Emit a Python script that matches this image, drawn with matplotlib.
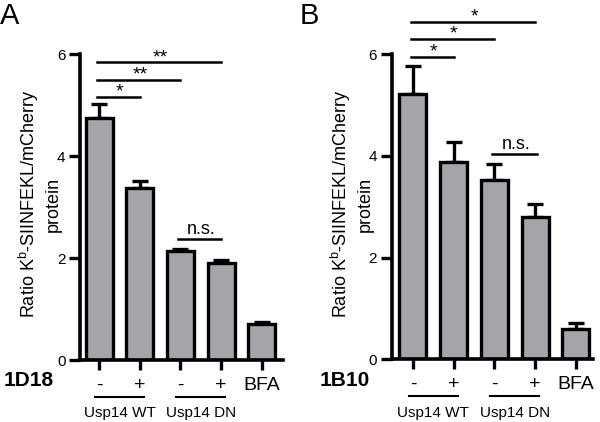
import numpy as np
import matplotlib
matplotlib.use("Agg")
import matplotlib.pyplot as plt

plt.rcParams['font.family'] = ['Liberation Sans', 'DejaVu Sans']

# data
tick_labels = ['-', '+', '-', '+', 'BFA']
groups = ['Usp14 WT', 'Usp14 DN']

a_means = [4.75, 3.37, 2.14, 1.90, 0.70]
a_errs = [0.27, 0.15, 0.04, 0.06, 0.05]
b_means = [5.21, 3.88, 3.53, 2.80, 0.60]
b_errs = [0.56, 0.39, 0.31, 0.26, 0.12]

# significance brackets: (x0, x1, y, label)
a_sig = [(0, 1, 5.16, '*'), (0, 2, 5.49, '**'), (0, 3, 5.84, '**'), (2, 3, 2.37, 'n.s.')]
b_sig = [(0, 1, 5.94, '*'), (0, 2, 6.29, '*'), (0, 3, 6.63, '*'), (2, 3.05, 4.03, 'n.s.')]

ylabel = 'Ratio K$^{\\mathregular{b}}$-SIINFEKL/mCherry\nprotein'
gray = '#a4a4a9'
lw = 2.4

fig = plt.figure(figsize=(6, 4.22), dpi=100)


def panel(rect, means, errs, sig, xlim, treat, letter, letter_x, treat_x, ylab_x):
    ax = fig.add_axes(rect)
    x = np.arange(len(means))
    ax.bar(x, means, width=0.66, color=gray, edgecolor='black', linewidth=lw, zorder=2)
    ax.errorbar(x, means, yerr=[np.zeros(len(errs)), errs], fmt='none', ecolor='black',
                elinewidth=lw, capsize=6, capthick=lw, zorder=1)
    ax.set_ylim(0, 6)
    ax.set_xlim(*xlim)
    ax.set_yticks([0, 2, 4, 6])
    ax.set_xticks(x)
    ax.set_xticklabels(tick_labels)
    for s in ['top', 'right']:
        ax.spines[s].set_visible(False)
    for s in ['left', 'bottom']:
        ax.spines[s].set_linewidth(2.6)
    ax.tick_params(axis='y', width=2.4, length=8, pad=2.5, labelsize=11)
    ax.tick_params(axis='x', width=2.4, length=7, pad=5, labelsize=14)

    for x0, x1, y, lab in sig:
        ax.plot([x0 - 0.05, x1], [y, y], color='black', lw=1.8, clip_on=False)
        if lab == 'n.s.':
            ax.text((x0 + x1) / 2, y + 0.03, lab, ha='center', va='bottom', fontsize=13)
        else:
            ax.text((x0 + x1) / 2, y - 0.07, lab, ha='center', va='bottom', fontsize=14)

    tr = ax.get_xaxis_transform()
    for i, g in enumerate(groups):
        xa, xb = 2 * i - 0.1, 2 * i + 1.1
        ax.plot([xa, xb], [-0.121, -0.121], color='black', lw=1.5, transform=tr, clip_on=False)
        ax.text(2 * i + 0.5, -0.175, g, ha='center', va='center', fontsize=11, transform=tr)

    fig.text(letter_x, 0.995, letter, ha='left', va='top', fontsize=21)
    fig.text(treat_x, 1 - 380 / 422, treat, ha='center', va='center', fontsize=15,
             fontweight='bold')
    fig.text(ylab_x, 1 - 204 / 422, ylabel, rotation=90, ha='center', va='center',
             fontsize=13, linespacing=1.3)
    return ax


panel([80 / 600, 1 - 360 / 422, 203 / 600, 305.7 / 422], a_means, a_errs, a_sig,
      (-0.47, 4.52), '1D18', 'A', 0.0, 29 / 600, 39 / 600)
panel([391.7 / 600, 1 - 359.3 / 422, 201.3 / 600, 305.3 / 422], b_means, b_errs, b_sig,
      (-0.52, 4.42), '1B10', 'B', 300 / 600, 345 / 600, 351 / 600)

fig.savefig('out.png', dpi=100)
